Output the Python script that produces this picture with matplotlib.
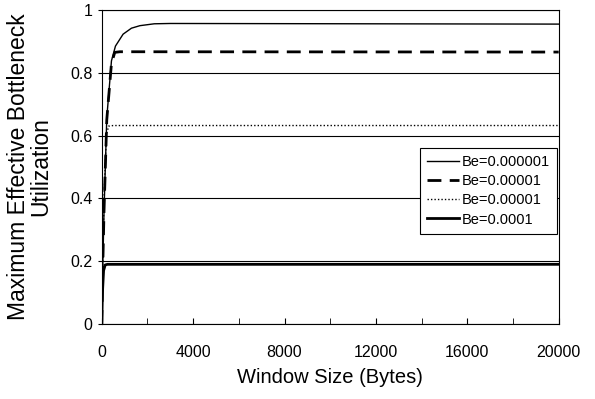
import matplotlib
matplotlib.use("Agg")
import matplotlib.pyplot as plt
from matplotlib.ticker import MultipleLocator

plt.rcParams['font.family'] = ['Liberation Sans', 'DejaVu Sans']

# Window sizes (bytes) sampled along each curve
x_1e6 = [0, 50, 100, 220, 425, 600, 935, 1300, 1670, 2300, 3000, 20000]
y_1e6 = [0, 0.20, 0.36, 0.656, 0.838, 0.885, 0.923, 0.942, 0.950, 0.956, 0.957, 0.955]

x_1e5 = [0, 50, 100, 220, 425, 570, 800, 20000]
y_1e5 = [0, 0.20, 0.36, 0.65, 0.83, 0.865, 0.867, 0.866]

x_5e5 = [0, 50, 100, 200, 300, 500, 20000]
y_5e5 = [0, 0.22, 0.40, 0.60, 0.63, 0.632, 0.632]

x_1e4 = [0, 30, 80, 150, 250, 20000]
y_1e4 = [0, 0.10, 0.17, 0.188, 0.19, 0.19]

labels = ["Be=0.000001", "Be=0.00001", "Be=0.00001", "Be=0.0001"]
y_ticks = [0, 0.2, 0.4, 0.6, 0.8, 1]
y_tick_labels = ['0', '0.2', '0.4', '0.6', '0.8', '1']
x_ticks = [0, 4000, 8000, 12000, 16000, 20000]

fig = plt.figure(figsize=(5.95, 3.99), dpi=100)
ax = fig.add_axes([0.171, 0.188, 0.768, 0.787])

ax.plot(x_1e6, y_1e6, color='black', lw=1.0, label=labels[0])
ax.plot(x_1e5, y_1e5, color='black', lw=2.0, ls=(0, (5, 3)), label=labels[1])
ax.plot(x_5e5, y_5e5, color='black', lw=1.0, ls=(0, (1, 1.5)), label=labels[2])
ax.plot(x_1e4, y_1e4, color='black', lw=2.0, label=labels[3])

ax.set_xlim(0, 20000)
ax.set_ylim(0, 1)
ax.set_xticks(x_ticks, [str(v) for v in x_ticks])
ax.xaxis.set_minor_locator(MultipleLocator(2000))
ax.set_yticks(y_ticks, y_tick_labels)
ax.tick_params(axis='x', which='both', direction='in', length=4, labelsize=11.5, pad=15)
ax.tick_params(axis='y', which='both', direction='out', length=3, labelsize=11.5)
ax.grid(axis='y', color='black', lw=0.8)
ax.set_axisbelow(True)
for s in ax.spines.values():
    s.set_linewidth(0.8)

ax.set_xlabel("Window Size (Bytes)", fontsize=14.5, labelpad=6)
ax.set_ylabel("Maximum Effective Bottleneck\nUtilization", fontsize=16.5, labelpad=13, linespacing=0.95)

leg = ax.legend(loc='center right', bbox_to_anchor=(1.0, 0.424), fontsize=10.5,
                frameon=True, fancybox=False, edgecolor='black', framealpha=1,
                handlelength=2.2, handletextpad=0.2, borderpad=0.5, labelspacing=0.35,
                borderaxespad=0.1)
leg.get_frame().set_linewidth(0.8)

fig.savefig("out.png", dpi=100)
